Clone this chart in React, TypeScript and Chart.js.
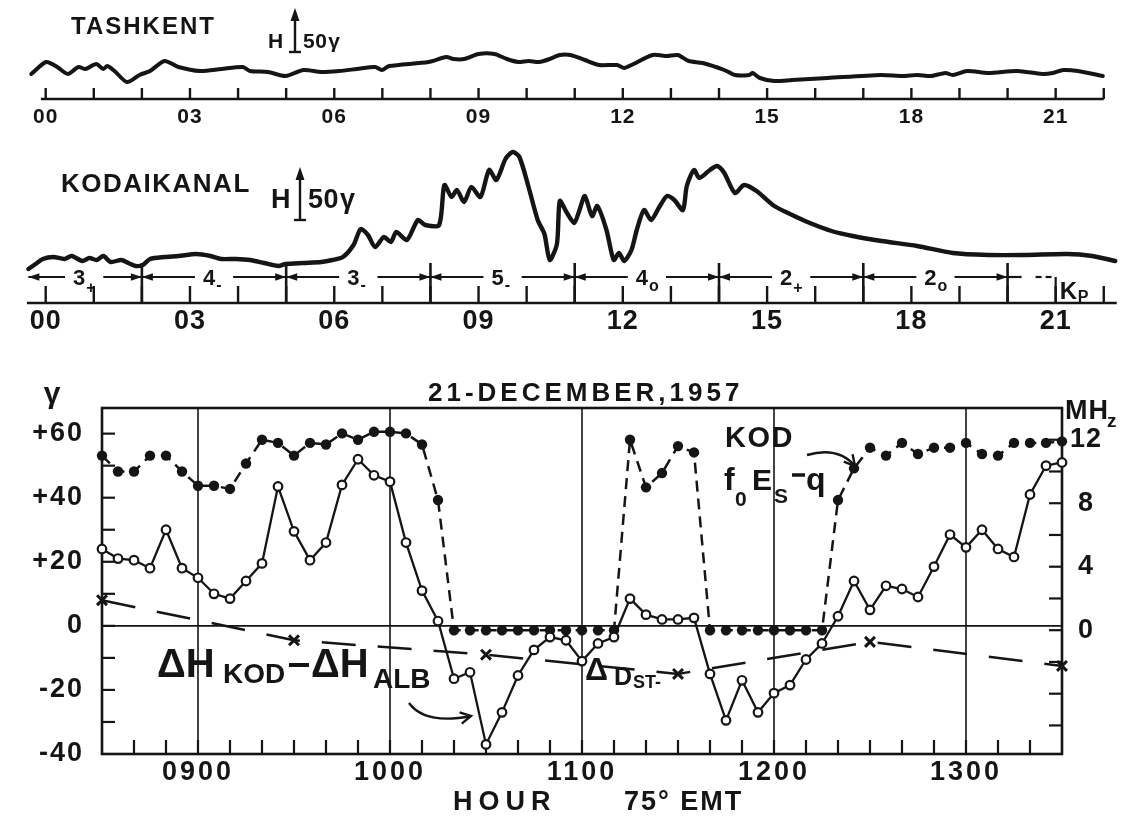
import React, { useEffect, useRef } from "react";
import { Chart, registerables } from "chart.js";

Chart.register(...registerables);

const FONT = '"Liberation Sans", "DejaVu Sans", Arial, sans-serif';
const INK = "#151515";

// ---------------- Panel 1 : TASHKENT magnetogram, H above its baseline (γ) ----------------
const tashkentHour = [
  -0.3, 0.01, 0.24, 0.46, 0.68, 0.83, 1.05, 1.2, 1.28, 1.43, 1.69, 1.95, 2.17, 2.47, 2.76, 3.21, 3.65, 4.1, 4.25, 4.62,
  4.99, 5.36, 5.73, 6.1, 6.47, 6.85, 6.99, 7.14, 7.96, 8.33, 8.48, 8.7, 9.0, 9.33, 9.59, 9.82, 10.04, 10.26, 10.48,
  10.69, 10.91, 11.21, 11.51, 11.88, 12.03, 12.18, 12.62, 12.92, 13.14, 13.37, 13.66, 14.11, 14.33, 14.63, 14.7, 14.85,
  15.15, 15.52, 16.26, 17.37, 17.82, 18.12, 18.41, 18.71, 18.86, 19.16, 19.6, 20.2, 20.72, 20.94, 21.16, 21.46, 21.98,
];
const tashkentH = [
  25, 37, 32, 25, 32, 30, 35, 30, 33, 28, 17, 24, 28, 38, 32, 28, 30, 32, 28, 27,
  23, 29, 27, 28, 30, 32, 29, 33, 37, 42, 40, 40, 45, 45, 40, 37, 38, 37, 40,
  44, 44, 39, 34, 34, 31, 34, 44, 43, 44, 38, 36, 29, 24, 24, 26, 21,
  18, 19, 21, 24, 23, 24, 23, 26, 24, 28, 26, 28, 25, 26, 29, 28, 23,
];

// ---------------- Panel 2 : KODAIKANAL magnetogram ----------------
const kodaiHour = [
  -0.36, -0.21, -0.06, 0.16, 0.39, 0.54, 0.76, 0.91, 1.06, 1.2, 1.35, 1.57, 1.72, 1.87, 2.02, 2.17, 2.47, 2.76, 3.13, 3.43,
  3.65, 3.95, 4.25, 4.54, 4.84, 4.99, 5.36, 5.73, 5.96, 6.18, 6.4, 6.55, 6.7, 6.85, 7.03, 7.18, 7.29, 7.51, 7.74, 7.89,
  8.18, 8.29, 8.44, 8.55, 8.7, 8.85, 9.04, 9.22, 9.37, 9.56, 9.71, 9.85, 10.04, 10.23, 10.37, 10.48, 10.63,
  10.69, 10.84, 10.99, 11.1, 11.21, 11.36, 11.47, 11.66, 11.81, 11.92, 12.03, 12.18, 12.29, 12.44, 12.59, 12.77, 12.92,
  13.07, 13.25, 13.33, 13.48, 13.59, 13.81, 13.96, 14.11, 14.33, 14.52, 14.78, 15.15, 15.52, 15.89, 16.34, 16.78, 17.38,
  18.12, 18.86, 19.6, 20.35, 21.24, 21.76, 22.24,
];
const kodaiH = [
  34, 39, 44, 46, 44, 47, 42, 45, 43, 47, 41, 43, 40, 37, 38, 44, 46, 47, 49, 47,
  44, 44, 43, 40, 37, 39, 40, 41, 43, 46, 58, 74, 68, 56, 66, 61, 71, 63, 83, 78,
  78, 118, 106, 113, 101, 116, 106, 133, 123, 144, 151, 146, 116, 83, 69, 43, 59,
  102, 90, 80, 93, 107, 87, 97, 73, 43, 50, 42, 53, 73, 93, 83, 97, 107,
  103, 93, 117, 133, 125, 133, 137, 130, 110, 118, 112, 97, 88, 80, 72, 67, 62,
  57, 50, 48, 48, 49, 47, 42,
];

const traceTickHours = [0, 1, 2, 3, 4, 5, 6, 7, 8, 9, 10, 11, 12, 13, 14, 15, 16, 17, 18, 19, 20, 21, 22];
const traceLabelHours = [0, 3, 6, 9, 12, 15, 18, 21];
const traceLabels = ["00", "03", "06", "09", "12", "15", "18", "21"];

// Kp three-hour intervals (hours of the trace axis)
const kpStartHour = [-1, 2, 5, 8, 11, 14, 17];
const kpEndHour = [2, 5, 8, 11, 14, 17, 20];
const kpDigit = ["3", "4", "3", "5", "4", "2", "2"];
const kpSuffix = ["+", "-", "-", "-", "o", "+", "o"];

// ---------------- Panel 3 : 21 December 1957 ----------------
const sampleTimes = [
  "0830", "0835", "0840", "0845", "0850", "0855", "0900", "0905", "0910", "0915", "0920", "0925", "0930", "0935",
  "0940", "0945", "0950", "0955", "1000", "1005", "1010", "1015", "1020", "1025", "1030", "1035", "1040", "1045",
  "1050", "1055", "1100", "1105", "1110", "1115", "1120", "1125", "1130", "1135", "1140", "1145", "1150", "1155",
  "1200", "1205", "1210", "1215", "1220", "1225", "1230", "1235", "1240", "1245", "1250", "1255", "1300", "1305",
  "1310", "1315", "1320", "1325", "1330",
];
// ΔH KOD − ΔH ALB (γ)
const deltaHKodAlb = [
  24, 21, 20.5, 18, 30, 18, 15, 10, 8.5, 14,
  19.5, 43.5, 29.5, 20.5, 26, 44, 52, 47, 45, 26,
  11, 1.5, -16.5, -14.5, -37, -27, -15.5, -7.5, -3.5, -4.5,
  -11, -5.5, -3.5, 8.5, 3.5, 2, 2, 2.5, -15, -29.5,
  -17, -27, -21, -18.5, -10.5, -5.5, 3, 14, 5, 12.5,
  11.5, 9, 18.5, 28.5, 24.5, 30, 24, 21.5, 41, 50,
  51,
];
// KOD foEs-q (MHz)
const foEsKod = [
  11.0, 10.0, 10.0, 11.0, 11.0, 10.0, 9.1, 9.1, 8.9, 10.5,
  12.0, 11.8, 11.0, 11.8, 11.7, 12.4, 12.0, 12.5, 12.5, 12.4,
  11.7, 8.2, 0, 0, 0, 0, 0, 0, 0, 0,
  0, 0, 0, 12.0, 9.0, 9.9, 11.6, 11.2, 0, 0,
  0, 0, 0, 0, 0, 0, 8.2, 10.2, 11.5, 11.0,
  11.8, 11.1, 11.5, 11.5, 11.8, 11.1, 11.0, 11.8, 11.8, 11.8,
  11.9,
];
// ΔDst-x (γ), hourly
const dstTimes = ["0830", "0930", "1030", "1130", "1230", "1330"];
const dstX = [8, -4.5, -9, -15, -5, -12.5];

const hourTickTimes = ["0900", "1000", "1100", "1200", "1300"];
const gammaTicks = [60, 40, 20, 0, -20, -40];
const gammaTickLabels = ["+60", "+40", "+20", "0", "-20", "-40"];
const mhzTicks = [12, 8, 4, 0];

const toMin = (s: string) => Number(s.slice(0, 2)) * 60 + Number(s.slice(2));

// ---------------- drawing helpers ----------------
function txt(ctx: any, s: string, x: number, y: number, font: string, align = "left", ls = 0, baseline = "alphabetic") {
  ctx.font = font;
  ctx.textAlign = align;
  ctx.textBaseline = baseline;
  ctx.letterSpacing = ls + "px";
  ctx.fillText(s, x, y);
  ctx.letterSpacing = "0px";
}
function seg(ctx: any, x0: number, y0: number, x1: number, y1: number) {
  ctx.beginPath();
  ctx.moveTo(x0, y0);
  ctx.lineTo(x1, y1);
  ctx.stroke();
}
function head(ctx: any, tipX: number, y: number, dir: number) {
  ctx.beginPath();
  ctx.moveTo(tipX, y);
  ctx.lineTo(tipX - dir * 11, y - 3.8);
  ctx.lineTo(tipX - dir * 11, y + 3.8);
  ctx.closePath();
  ctx.fill();
}
function curvedArrow(ctx: any, x0: number, y0: number, cx: number, cy: number, x1: number, y1: number) {
  ctx.beginPath();
  ctx.moveTo(x0, y0);
  ctx.quadraticCurveTo(cx, cy, x1, y1);
  ctx.stroke();
  const ang = Math.atan2(y1 - cy, x1 - cx);
  ctx.beginPath();
  ctx.moveTo(x1 - 12 * Math.cos(ang - 0.5), y1 - 12 * Math.sin(ang - 0.5));
  ctx.lineTo(x1, y1);
  ctx.lineTo(x1 - 12 * Math.cos(ang + 0.5), y1 - 12 * Math.sin(ang + 0.5));
  ctx.stroke();
}
function scaleBar(ctx: any, x: number, yTop: number, yBot: number) {
  ctx.lineWidth = 2.4;
  seg(ctx, x, yTop + 8, x, yBot);
  seg(ctx, x - 6, yBot, x + 6, yBot);
  ctx.beginPath();
  ctx.moveTo(x, yTop);
  ctx.lineTo(x - 4.5, yTop + 13);
  ctx.lineTo(x + 4.5, yTop + 13);
  ctx.closePath();
  ctx.fill();
}

type PanelOpts = {
  name: string;
  axisFrom: number;
  axisTo: number;
  tickLen: number;
  labelFont: string;
  labelDy: number;
  title: string;
  titleX: number;
  titleY: number;
  titleFont: string;
  titleLs: number;
  hX: number;
  hY: number;
  hFont: string;
  barX: number;
  barTop: number;
  barBot: number;
  extra?: (chart: any) => void;
};

function panelPlugin(o: PanelOpts) {
  return {
    id: "panel-" + o.name,
    afterDatasetsDraw(chart: any) {
      const ctx = chart.ctx;
      const xs = chart.scales.x;
      const ys = chart.scales.y;
      const y0 = ys.getPixelForValue(0);
      ctx.save();
      ctx.strokeStyle = INK;
      ctx.fillStyle = INK;
      ctx.lineWidth = 2.4;
      seg(ctx, xs.getPixelForValue(o.axisFrom), y0, xs.getPixelForValue(o.axisTo), y0);
      traceTickHours.forEach((h) => {
        const x = xs.getPixelForValue(h);
        seg(ctx, x, y0, x, y0 - o.tickLen);
      });
      traceLabelHours.forEach((h, i) => {
        txt(ctx, traceLabels[i], xs.getPixelForValue(h), y0 + o.labelDy, o.labelFont, "center", 1, "middle");
      });
      txt(ctx, o.title, o.titleX, o.titleY, o.titleFont, "left", o.titleLs);
      txt(ctx, "H", o.hX, o.hY, o.hFont, "left");
      scaleBar(ctx, o.barX, o.barTop, o.barBot);
      ctx.font = o.hFont;
      txt(ctx, "50", o.barX + 8, o.hY, o.hFont, "left", 0.5);
      const w50 = ctx.measureText("50").width;
      txt(ctx, "γ", o.barX + 10 + w50, o.hY, o.hFont, "left");
      if (o.extra) o.extra(chart);
      ctx.restore();
    },
  };
}

function kpDecor(chart: any) {
  const ctx = chart.ctx;
  const xs = chart.scales.x;
  const ys = chart.scales.y;
  const y0 = ys.getPixelForValue(0);
  const yr = y0 - 26;
  const leftEdge = xs.getPixelForValue(-0.36);
  kpEndHour.forEach((h) => {
    const x = xs.getPixelForValue(h);
    ctx.lineWidth = 2.6;
    seg(ctx, x, y0 - 40, x, y0);
  });
  ctx.lineWidth = 2.2;
  kpStartHour.forEach((s, i) => {
    const xa = Math.max(xs.getPixelForValue(s), leftEdge);
    const xb = xs.getPixelForValue(kpEndHour[i]);
    const xc = xs.getPixelForValue((Math.max(s, -0.6) + kpEndHour[i]) / 2 + (i === 0 ? 0.1 : 0));
    ctx.font = `bold 22px ${FONT}`;
    const wd = ctx.measureText(kpDigit[i]).width;
    const ws = 10;
    const tw = wd + ws;
    const tx = xc - tw / 2;
    txt(ctx, kpDigit[i], tx, yr + 7.5, `bold 22px ${FONT}`, "left");
    const sb = kpSuffix[i] === "+" ? 16 : kpSuffix[i] === "-" ? 13 : 14;
    txt(ctx, kpSuffix[i], tx + wd + 1, yr + sb, `bold 16px ${FONT}`, "left");
    seg(ctx, xa, yr, tx - 8, yr);
    seg(ctx, tx + tw + 8, yr, xb, yr);
    head(ctx, xa, yr, -1);
    head(ctx, xb, yr, 1);
  });
  // last (open) interval and the Kp legend
  const x20 = xs.getPixelForValue(20);
  seg(ctx, x20, yr, x20 + 14, yr);
  seg(ctx, x20 + 28, yr, x20 + 34, yr);
  seg(ctx, x20 + 38, yr, x20 + 44, yr);
  const x21 = xs.getPixelForValue(21);
  seg(ctx, x21, y0 - 26, x21, y0);
  txt(ctx, "K", x21 + 4, y0 - 4, `bold 24px ${FONT}`, "left");
  txt(ctx, "P", x21 + 22, y0 - 1, `bold 16px ${FONT}`, "left");
}

function traceConfig(hours: number[], vals: number[], yMax: number, padTop: number, lineW: number, plugin: any) {
  return {
    type: "line",
    data: {
      datasets: [
        {
          data: hours.map((h, i) => ({ x: h, y: vals[i] })),
          borderColor: INK,
          borderWidth: lineW,
          pointRadius: 0,
          tension: 0.25,
          clip: false,
          borderJoinStyle: "round",
          borderCapStyle: "round",
        },
      ],
    },
    options: {
      responsive: false,
      animation: false,
      devicePixelRatio: 1,
      events: [],
      layout: { padding: { left: 24, right: 2, top: padTop, bottom: 816 - padTop - yMax } },
      plugins: { legend: { display: false }, tooltip: { enabled: false } },
      scales: {
        x: { type: "linear", min: -0.451, max: 22.4, display: false },
        y: { type: "linear", min: 0, max: yMax, display: false },
      },
    },
    plugins: [plugin],
  };
}

const mainGrid = {
  id: "mainGrid",
  beforeDatasetsDraw(chart: any) {
    const ctx = chart.ctx;
    const a = chart.chartArea;
    const xs = chart.scales.x;
    const yl = chart.scales.y;
    const yr = chart.scales.y1;
    ctx.save();
    ctx.strokeStyle = INK;
    ctx.lineWidth = 2.6;
    ctx.strokeRect(a.left, a.top, a.right - a.left, a.bottom - a.top);
    ctx.lineWidth = 1.6;
    hourTickTimes.forEach((t) => {
      const x = xs.getPixelForValue(toMin(t));
      seg(ctx, x, a.top, x, a.bottom);
    });
    const yz = yl.getPixelForValue(0);
    seg(ctx, a.left, yz, a.right, yz);
    ctx.lineWidth = 2.2;
    for (let m = 520; m < 810; m += 10) {
      const x = xs.getPixelForValue(m);
      seg(ctx, x, a.bottom, x, a.bottom - 14);
    }
    for (let v = -30; v <= 60; v += 10) {
      const y = yl.getPixelForValue(v);
      seg(ctx, a.left, y, a.left + 13, y);
    }
    for (let v = -6; v <= 12; v += 2) {
      const y = yr.getPixelForValue(v);
      seg(ctx, a.right - 13, y, a.right, y);
    }
    ctx.restore();
  },
  afterDatasetsDraw(chart: any) {
    const ctx = chart.ctx;
    const a = chart.chartArea;
    const xs = chart.scales.x;
    const yl = chart.scales.y;
    const yr = chart.scales.y1;
    ctx.save();
    ctx.fillStyle = INK;
    ctx.strokeStyle = INK;
    const big = `bold 27px ${FONT}`;
    txt(ctx, "21-DECEMBER,1957", 428, 401, `bold 26px ${FONT}`, "left", 4);
    txt(ctx, "γ", 52, 403, `bold 30px ${FONT}`, "center");
    gammaTicks.forEach((v, i) => txt(ctx, gammaTickLabels[i], a.left - 18, yl.getPixelForValue(v), big, "right", 2, "middle"));
    mhzTicks.forEach((v) => txt(ctx, String(v), a.right + 24, yr.getPixelForValue(v), big, "center", 1, "middle"));
    txt(ctx, "MH", 1065, 419, big, "left", 1);
    txt(ctx, "z", 1107, 427, `bold 19px ${FONT}`, "left");
    hourTickTimes.forEach((t) => txt(ctx, t, xs.getPixelForValue(toMin(t)), a.bottom + 26, big, "center", 3));
    txt(ctx, "HOUR", 453, 810, big, "left", 6);
    txt(ctx, "75° EMT", 624, 810, big, "left", 2);

    // ΔH KOD − ΔH ALB
    txt(ctx, "ΔH", 157, 677, `bold 40px ${FONT}`, "left");
    txt(ctx, "KOD", 223, 683, `bold 28px ${FONT}`, "left");
    ctx.lineWidth = 4;
    seg(ctx, 289, 665, 309, 665);
    txt(ctx, "ΔH", 311, 677, `bold 40px ${FONT}`, "left");
    txt(ctx, "ALB", 373, 688, `bold 28px ${FONT}`, "left");
    ctx.lineWidth = 2.4;
    curvedArrow(ctx, 409, 703, 425, 725, 471, 716);

    // ΔDst-x
    txt(ctx, "Δ", 585, 680, `bold 32px ${FONT}`, "left");
    txt(ctx, "D", 614, 685, `bold 25px ${FONT}`, "left");
    txt(ctx, "ST-", 633, 688, `bold 18px ${FONT}`, "left");

    // KOD foEs-q
    txt(ctx, "KOD", 725, 447, `bold 29px ${FONT}`, "left", 1.5);
    txt(ctx, "f", 724, 490, `bold 32px ${FONT}`, "left");
    txt(ctx, "0", 735, 506, `bold 21px ${FONT}`, "left");
    txt(ctx, "E", 752, 490, `bold 30px ${FONT}`, "left");
    txt(ctx, "S", 774, 503, `bold 21px ${FONT}`, "left");
    ctx.lineWidth = 3.5;
    seg(ctx, 792, 475, 805, 475);
    txt(ctx, "q", 806, 490, `bold 32px ${FONT}`, "left");
    ctx.lineWidth = 2.4;
    curvedArrow(ctx, 807, 455, 838, 446, 855, 466);
    ctx.restore();
  },
};

const tashkentPanel = panelPlugin({
  name: "tashkent",
  axisFrom: -0.1,
  axisTo: 22,
  tickLen: 11,
  labelFont: `bold 21px ${FONT}`,
  labelDy: 18,
  title: "TASHKENT",
  titleX: 71,
  titleY: 34,
  titleFont: `bold 24px ${FONT}`,
  titleLs: 2,
  hX: 268,
  hY: 48,
  hFont: `bold 21px ${FONT}`,
  barX: 295,
  barTop: 8,
  barBot: 52,
});

const kodaiPanel = panelPlugin({
  name: "kodai",
  axisFrom: -0.39,
  axisTo: 22.27,
  tickLen: 17,
  labelFont: `bold 27px ${FONT}`,
  labelDy: 19,
  title: "KODAIKANAL",
  titleX: 61,
  titleY: 192,
  titleFont: `bold 26px ${FONT}`,
  titleLs: 1.5,
  hX: 271,
  hY: 208,
  hFont: `bold 27px ${FONT}`,
  barX: 300,
  barTop: 167,
  barBot: 220,
  extra: kpDecor,
});

function mainConfig() {
  return {
    type: "line",
    data: {
      datasets: [
        {
          label: "ΔH KOD − ΔH ALB",
          data: sampleTimes.map((t, i) => ({ x: toMin(t), y: deltaHKodAlb[i] })),
          yAxisID: "y",
          borderColor: INK,
          borderWidth: 2.3,
          pointRadius: 4.3,
          pointBackgroundColor: "#ffffff",
          pointBorderColor: INK,
          pointBorderWidth: 2.2,
          tension: 0,
          clip: false,
        },
        {
          label: "KOD foEs-q",
          data: sampleTimes.map((t, i) => ({ x: toMin(t), y: foEsKod[i] })),
          yAxisID: "y1",
          borderColor: INK,
          borderWidth: 2.5,
          borderDash: [11, 7],
          pointRadius: 5.2,
          pointBackgroundColor: INK,
          pointBorderColor: INK,
          pointBorderWidth: 0,
          tension: 0,
          clip: false,
        },
        {
          label: "ΔDst-x",
          data: dstTimes.map((t, i) => ({ x: toMin(t), y: dstX[i] })),
          yAxisID: "y",
          borderColor: INK,
          borderWidth: 2.5,
          borderDash: [34, 22],
          pointStyle: "crossRot",
          pointRadius: 7,
          pointBorderWidth: 3,
          pointBorderColor: INK,
          tension: 0,
          clip: false,
        },
      ],
    },
    options: {
      responsive: false,
      animation: false,
      devicePixelRatio: 1,
      events: [],
      layout: { padding: { left: 102, right: 63, top: 408, bottom: 62 } },
      plugins: { legend: { display: false }, tooltip: { enabled: false } },
      scales: {
        x: { type: "linear", min: 510, max: 810, display: false },
        y: { type: "linear", min: -40, max: 68, display: false },
        y1: { type: "linear", position: "right", min: -7.8, max: 14, display: false },
      },
    },
    plugins: [mainGrid],
  };
}

export default function App() {
  const r1 = useRef<HTMLCanvasElement>(null);
  const r2 = useRef<HTMLCanvasElement>(null);
  const r3 = useRef<HTMLCanvasElement>(null);

  useEffect(() => {
    const charts = [
      new Chart(r1.current as any, traceConfig(tashkentHour, tashkentH, 99, 0, 4, tashkentPanel) as any),
      new Chart(r2.current as any, traceConfig(kodaiHour, kodaiH, 160, 143, 4.4, kodaiPanel) as any),
      new Chart(r3.current as any, mainConfig() as any),
    ];
    return () => charts.forEach((c) => c.destroy());
  }, []);

  const cv: any = { position: "absolute", left: 0, top: 0, width: 1125, height: 816 };
  return (
    <div style={{ position: "absolute", left: 0, top: 0, width: 1125, height: 816, background: "#ffffff", overflow: "hidden" }}>
      <canvas ref={r1} width={1125} height={816} style={cv} />
      <canvas ref={r2} width={1125} height={816} style={cv} />
      <canvas ref={r3} width={1125} height={816} style={cv} />
    </div>
  );
}
